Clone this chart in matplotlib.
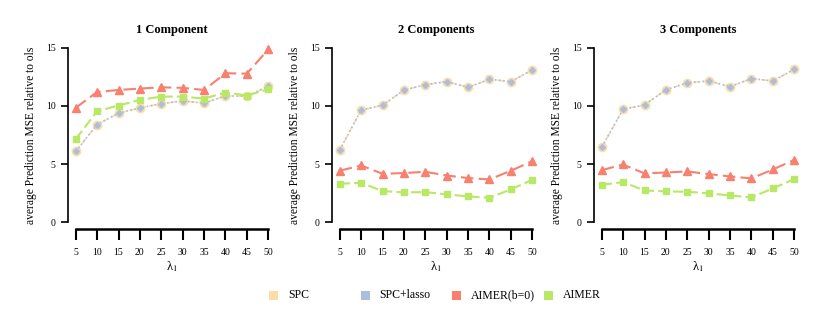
import matplotlib
matplotlib.use("Agg")
import matplotlib.pyplot as plt
from matplotlib.patches import Rectangle

plt.rcParams['font.family'] = ['Liberation Serif', 'DejaVu Serif']
plt.rcParams['mathtext.fontset'] = 'stix'

lam = [5, 10, 15, 20, 25, 30, 35, 40, 45, 50]
titles = ["1 Component", "2 Components", "3 Components"]

spc = [
    [6.08, 8.40, 9.38, 9.84, 10.20, 10.44, 10.24, 10.87, 10.84, 11.70],
    [6.20, 9.64, 10.07, 11.36, 11.84, 12.10, 11.61, 12.30, 12.10, 13.10],
    [6.45, 9.72, 10.09, 11.39, 11.99, 12.16, 11.67, 12.36, 12.16, 13.16],
]
spc_lasso = [
    [6.08, 8.40, 9.38, 9.84, 10.20, 10.44, 10.24, 10.87, 10.84, 11.70],
    [6.20, 9.64, 10.07, 11.36, 11.84, 12.10, 11.61, 12.30, 12.10, 13.10],
    [6.45, 9.72, 10.09, 11.39, 11.99, 12.16, 11.67, 12.36, 12.16, 13.16],
]
aimer_b0 = [
    [9.84, 11.21, 11.38, 11.50, 11.61, 11.56, 11.38, 12.82, 12.79, 14.88],
    [4.42, 4.88, 4.16, 4.22, 4.33, 4.01, 3.79, 3.67, 4.42, 5.25],
    [4.47, 4.96, 4.19, 4.27, 4.36, 4.13, 3.93, 3.76, 4.53, 5.36],
]
aimer = [
    [7.14, 9.55, 10.04, 10.52, 10.81, 10.81, 10.64, 11.16, 10.90, 11.44],
    [3.30, 3.38, 2.67, 2.55, 2.58, 2.38, 2.21, 2.09, 2.81, 3.64],
    [3.21, 3.44, 2.72, 2.64, 2.61, 2.47, 2.29, 2.12, 2.90, 3.70],
]

names = ["SPC", "SPC+lasso", "AIMER(b=0)", "AIMER"]
colors = ["#FDDCA8", "#A9BFDD", "#F8806F", "#B8E865"]

W, H = 830, 312
fig = plt.figure(figsize=(W / 100, H / 100), dpi=100)
lefts = [68, 332, 594]

for i in range(3):
    ax = fig.add_axes([lefts[i] / W, (H - 229) / H, 208 / W, 188 / H])
    ax.plot(lam, spc[i], color=colors[0], ls=(0, (4, 2)), lw=1.2,
            marker="o", ms=6, zorder=2)
    ax.plot(lam, spc_lasso[i], color=colors[1], ls=(0, (1, 1.5)), lw=1.2,
            marker="D", ms=3, zorder=3)
    ax.plot(lam, aimer_b0[i], color=colors[2], ls=(0, (6, 2.5)), lw=1.5,
            marker="^", ms=6, zorder=4)
    ax.plot(lam, aimer[i], color=colors[3], ls=(0, (5, 2)), lw=1.5,
            marker="s", ms=5, zorder=4)
    ax.set_xlim(3.2, 51.8)
    ax.set_ylim(-0.6, 15.6)
    ax.set_xticks(lam)
    ax.set_yticks([0, 5, 10, 15])
    for s in ["top", "right"]:
        ax.spines[s].set_visible(False)
    ax.spines["left"].set_bounds(0, 15)
    ax.spines["bottom"].set_bounds(5, 50)
    ax.spines["bottom"].set_linewidth(1.8)
    ax.spines["left"].set_linewidth(1.2)
    ax.tick_params(axis="x", length=8, width=1.5, pad=6, labelsize=7)
    ax.tick_params(axis="y", length=5, width=1.2, pad=4, labelsize=7)
    ax.set_title(titles[i], fontsize=9, fontweight="bold", pad=6)
    ax.set_ylabel("average Prediction MSE relative to ols", fontsize=8.3, labelpad=6)
    ax.set_xlabel("λ$_1$", fontsize=9, labelpad=1)

# legend entries, evenly spaced as in the reference
for k, (name, c) in enumerate(zip(names, colors)):
    x0 = 269 + k * 91.5
    fig.add_artist(Rectangle((x0 / W, (H - 300) / H), 9 / W, 9 / H,
                             transform=fig.transFigure, facecolor=c, edgecolor="none"))
    fig.text((x0 + 19) / W, (H - 295) / H, name, fontsize=8.5, va="center", ha="left")

fig.savefig("out.png", dpi=100)
